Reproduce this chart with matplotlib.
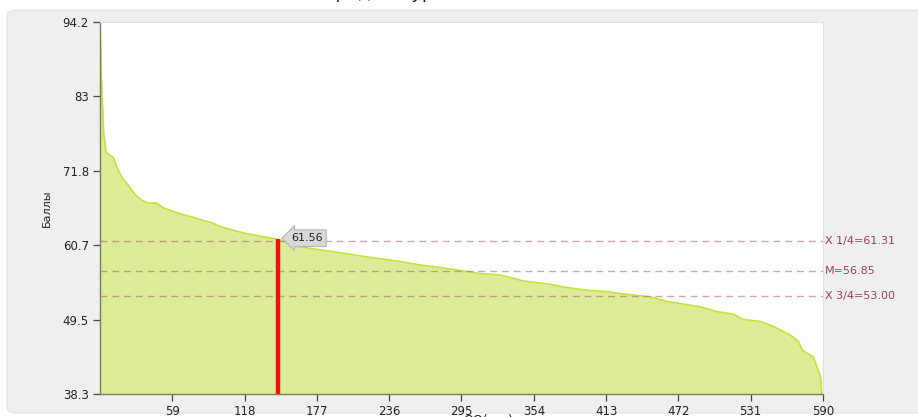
import matplotlib.pyplot as plt
from matplotlib.patches import FancyBboxPatch

# sorted scores of schools
oo_idx = [0, 1, 3, 5, 8, 11, 14, 18, 23, 29, 34, 39, 46, 52, 61, 69, 75, 83, 92, 98,
          117, 131, 145, 150, 163, 190, 218, 245, 261, 278, 294, 310, 326, 335, 345,
          354, 367, 381, 397, 414, 424, 449, 463, 490, 503, 517, 525, 539, 550, 563,
          570, 573, 578, 582, 585, 588, 589]
scores = [94.2, 86.5, 77.5, 74.6, 74.2, 73.8, 72.3, 70.8, 69.7, 68.2, 67.45, 67.0, 67.0,
          66.25, 65.65, 65.2, 64.9, 64.45, 64.0, 63.45, 62.5, 62.0, 61.56, 61.2, 60.4,
          59.7, 58.9, 58.2, 57.7, 57.3, 56.85, 56.4, 56.2, 55.8, 55.3, 55.1, 54.8, 54.3,
          53.9, 53.67, 53.4, 52.9, 52.2, 51.4, 50.7, 50.3, 49.5, 49.2, 48.4, 47.2, 46.2,
          44.9, 44.3, 43.9, 42.4, 40.9, 38.3]

marker_idx = 145
marker_val = 61.56
marker_label = "61.56"

ref_vals = [61.31, 56.85, 53.00]
ref_labels = ["X 1/4=61.31", "M=56.85", "X 3/4=53.00"]

x_ticks = [59, 118, 177, 236, 295, 354, 413, 472, 531, 590]
y_ticks = [38.3, 49.48, 60.66, 71.84, 83.02, 94.2]
y_tick_labels = ["38.3", "49.5", "60.7", "71.8", "83", "94.2"]
y_min, y_max = 38.3, 94.2
x_max = 590

fig = plt.figure(figsize=(9.18, 4.17), dpi=100)
W, H = 918, 417

# grey panel behind the chart
panel = FancyBboxPatch((7 / W, 4 / H), 940 / W, 403 / H,
                       boxstyle="round,pad=0,rounding_size=0.012",
                       transform=fig.transFigure, fc="#efefef", ec="#e4e4e4",
                       lw=0.8, zorder=-5)
fig.patches.append(panel)

# clipped title at the very top
fig.text(423 / W, 1 + 2 / H, "Средний уровень ОО", ha="center", va="baseline",
         fontsize=13, color="#222222")

ax = fig.add_axes([100 / W, 23 / H, 723 / W, 372 / H])
ax.set_facecolor("white")

ax.fill_between(oo_idx, scores, y_min, color="#dcec96", lw=0, zorder=1)
ax.plot(oo_idx, scores, color="#c6e03c", lw=1.2, zorder=2)

for v in ref_vals:
    ax.axhline(v, color="#a24a64", alpha=0.5, lw=1.0, ls=(0, (5, 3.5)), zorder=3)
for v, lab in zip(ref_vals, ref_labels):
    ax.text(1.003, v, lab, transform=ax.get_yaxis_transform(), ha="left",
            va="center", fontsize=8, color="#9a3f5a", clip_on=False)

ax.plot([marker_idx, marker_idx], [y_min, marker_val], color="#f01010", lw=3.2,
        solid_capstyle="butt", zorder=4)
ax.text(marker_idx + 24, marker_val + 0.15, marker_label, ha="center", va="center",
        fontsize=8, color="#222222", zorder=5,
        bbox=dict(boxstyle="larrow,pad=0.3", fc="#d9d9d9", ec="#b5b5b5", lw=0.8))

ax.set_xlim(0, x_max)
ax.set_ylim(y_min, y_max)
ax.set_xticks(x_ticks)
ax.set_xticklabels([str(t) for t in x_ticks])
ax.set_yticks(y_ticks)
ax.set_yticklabels(y_tick_labels)
ax.tick_params(axis="both", direction="out", length=5, width=0.9, color="#444444",
               labelsize=8.5, labelcolor="#222222", pad=3)

for side in ["top", "right"]:
    ax.spines[side].set_color("#e0e0e0")
    ax.spines[side].set_linewidth(0.8)
ax.spines["left"].set_color("#7a7f55")
ax.spines["bottom"].set_color("#7a7f55")
ax.spines["left"].set_linewidth(1.0)
ax.spines["bottom"].set_linewidth(1.0)
for s in ax.spines.values():
    s.set_zorder(6)

fig.text(47 / W, 1 - 208 / H, "Баллы", rotation=90, ha="center", va="center",
         fontsize=8, color="#222222")
fig.text(488 / W, 4 / H, "ОО(ед.)", ha="center", va="top", fontsize=9,
         color="#222222")

fig.savefig("out.png", dpi=100)
